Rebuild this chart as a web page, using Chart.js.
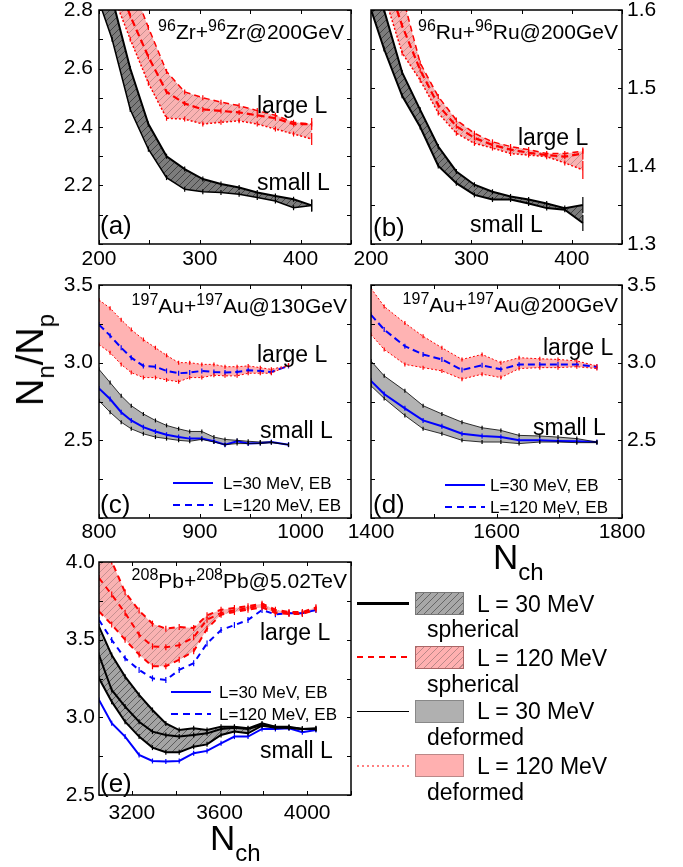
<!DOCTYPE html>
<html>
<head>
<meta charset="utf-8">
<title>Nn/Np vs Nch</title>
<script src="https://cdn.jsdelivr.net/npm/chart.js@4.4.1/dist/chart.umd.min.js"></script>
<style>
  body { margin: 0; background: #fff; }
  #page { position: relative; width: 683px; height: 867px; overflow: hidden; font-family: "Liberation Sans", Arial, sans-serif; }
  #page canvas { position: absolute; }
  .t { position: absolute; white-space: nowrap; line-height: 1; color: #000; }
  .sup { font-size: 16px; position: relative; top: -8px; }
  .sub { font-size: 24px; position: relative; top: 11px; }
  .sw { position: absolute; }
</style>
</head>
<body>
<div id="page"></div>
<script>
// ---- (a) Zr+Zr 200 GeV ----
const aX = [195, 213, 231, 249, 267, 285, 303, 321, 339, 357, 375, 393, 411];
const aBlackHi = [3.00, 2.84, 2.60, 2.41, 2.30, 2.256, 2.222, 2.205, 2.193, 2.176, 2.164, 2.153, 2.132];
const aBlackLo = [2.88, 2.70, 2.46, 2.324, 2.227, 2.187, 2.179, 2.176, 2.170, 2.159, 2.147, 2.124, 2.132];
const aRedHi = [3.20, 3.05, 2.90, 2.74, 2.59, 2.52, 2.50, 2.485, 2.473, 2.456, 2.44, 2.416, 2.41];
const aRedLo = [3.05, 2.86, 2.70, 2.55, 2.43, 2.427, 2.41, 2.416, 2.421, 2.41, 2.393, 2.376, 2.359];
const aRedMid = [3.12, 2.95, 2.78, 2.64, 2.52, 2.48, 2.46, 2.455, 2.45, 2.44, 2.43, 2.41, 2.41];
const aXLabels = [200, 300, 400];
const aYLabels = [2.2, 2.4, 2.6, 2.8];

// ---- (b) Ru+Ru 200 GeV ----
const bX = [195, 213, 231, 249, 267, 285, 303, 321, 339, 357, 375, 393, 411];
const bBlackHi = [1.68, 1.60, 1.52, 1.472, 1.425, 1.393, 1.376, 1.367, 1.361, 1.357, 1.352, 1.346, 1.35];
const bBlackLo = [1.62, 1.55, 1.49, 1.45, 1.40, 1.378, 1.363, 1.357, 1.357, 1.352, 1.346, 1.344, 1.327];
const bRedHi = [1.75, 1.68, 1.62, 1.532, 1.489, 1.459, 1.442, 1.431, 1.425, 1.421, 1.416, 1.416, 1.419];
const bRedLo = [1.70, 1.62, 1.545, 1.51, 1.468, 1.442, 1.429, 1.423, 1.416, 1.414, 1.412, 1.404, 1.395];
const bRedMid = [1.72, 1.65, 1.58, 1.523, 1.478, 1.451, 1.436, 1.427, 1.421, 1.417, 1.414, 1.412, 1.416];
const bXLabels = [200, 300, 400];
const bYLabels = [1.3, 1.4, 1.5, 1.6];

// ---- (c) Au+Au 130 GeV ----
const cX = [800, 811, 822, 832, 844, 856, 867, 879, 890, 902, 914, 925, 937, 948, 960, 971, 988];
const cRedHi = [3.404, 3.351, 3.277, 3.213, 3.149, 3.096, 3.047, 3.0, 3.0, 2.989, 2.989, 2.974, 2.974, 2.979, 2.968, 2.957, 2.983];
const cRedLo = [3.117, 3.064, 2.989, 2.936, 2.904, 2.904, 2.889, 2.877, 2.904, 2.904, 2.919, 2.915, 2.915, 2.932, 2.932, 2.932, 2.983];
const cBlueDash = [3.245, 3.174, 3.096, 3.032, 2.979, 2.974, 2.947, 2.932, 2.936, 2.947, 2.94, 2.936, 2.94, 2.951, 2.947, 2.94, 2.979];
const cBlackHi = [2.957, 2.872, 2.787, 2.723, 2.670, 2.628, 2.596, 2.574, 2.557, 2.557, 2.521, 2.506, 2.5, 2.494, 2.489, 2.489, 2.472];
const cBlackLo = [2.755, 2.681, 2.617, 2.574, 2.542, 2.521, 2.511, 2.5, 2.494, 2.506, 2.489, 2.472, 2.479, 2.479, 2.479, 2.485, 2.472];
const cBlueSolid = [2.834, 2.766, 2.681, 2.628, 2.585, 2.557, 2.536, 2.521, 2.511, 2.511, 2.494, 2.472, 2.494, 2.479, 2.483, 2.489, 2.472];
const cXLabels = [800, 900, 1000];
const cYLabels = [2.5, 3.0, 3.5];

// ---- (d) Au+Au 200 GeV ----
const dX = [1400, 1421, 1454, 1483, 1513, 1545, 1577, 1607, 1636, 1669, 1698, 1728, 1760];
const dRedHi = [3.479, 3.362, 3.255, 3.170, 3.096, 3.021, 3.053, 3.0, 3.032, 3.025, 3.021, 3.011, 2.979];
const dRedLo = [3.181, 3.085, 2.989, 2.968, 2.947, 2.894, 2.926, 2.904, 2.962, 2.968, 2.968, 2.974, 2.962];
const dBlueDash = [3.308, 3.213, 3.106, 3.053, 3.021, 2.953, 2.983, 2.957, 2.989, 2.989, 2.989, 2.989, 2.972];
const dBlackHi = [3.011, 2.915, 2.819, 2.723, 2.670, 2.617, 2.581, 2.564, 2.532, 2.528, 2.521, 2.511, 2.489];
const dBlackLo = [2.851, 2.770, 2.660, 2.574, 2.542, 2.5, 2.489, 2.489, 2.479, 2.489, 2.489, 2.485, 2.485];
const dBlueSolid = [2.883, 2.798, 2.706, 2.628, 2.591, 2.542, 2.528, 2.521, 2.5, 2.5, 2.496, 2.494, 2.489];
const dXLabels = [1400, 1600, 1800];
const dYLabels = [2.5, 3.0, 3.5];

// ---- (e) Pb+Pb 5.02 TeV ----
const eX = [3050, 3108, 3169, 3233, 3294, 3355, 3416, 3482, 3543, 3607, 3668, 3730, 3794, 3855, 3917, 3978, 4040];
const eRedHi = [4.08, 4.004, 3.805, 3.687, 3.603, 3.571, 3.582, 3.575, 3.657, 3.693, 3.704, 3.715, 3.732, 3.693, 3.678, 3.678, 3.708];
const eRedMid = [3.897, 3.790, 3.672, 3.532, 3.457, 3.451, 3.464, 3.515, 3.629, 3.672, 3.689, 3.704, 3.721, 3.682, 3.672, 3.672, 3.700];
const eRedLo = [3.682, 3.597, 3.500, 3.404, 3.329, 3.329, 3.371, 3.425, 3.571, 3.661, 3.678, 3.693, 3.708, 3.672, 3.665, 3.665, 3.693];
const eBlueDash = [3.627, 3.498, 3.380, 3.305, 3.251, 3.240, 3.305, 3.348, 3.476, 3.562, 3.594, 3.627, 3.691, 3.663, 3.670, 3.670, 3.691];
const eBlackHi = [3.584, 3.401, 3.262, 3.144, 3.047, 2.961, 2.918, 2.929, 2.918, 2.940, 2.940, 2.929, 2.961, 2.940, 2.940, 2.925, 2.929];
const eBlackMid = [3.401, 3.176, 3.069, 2.972, 2.908, 2.886, 2.876, 2.886, 2.897, 2.925, 2.933, 2.925, 2.951, 2.940, 2.933, 2.925, 2.925];
const eBlackLo = [3.251, 3.101, 2.972, 2.876, 2.805, 2.775, 2.775, 2.811, 2.826, 2.886, 2.908, 2.897, 2.946, 2.933, 2.933, 2.925, 2.925];
const eBlueSolid = [3.112, 2.962, 2.876, 2.758, 2.719, 2.715, 2.719, 2.769, 2.784, 2.833, 2.876, 2.876, 2.925, 2.925, 2.930, 2.904, 2.919];
const eXLabels = [3200, 3600, 4000];
const eYLabels = [2.5, 3.0, 3.5, 4.0];

const FONT = '"Liberation Sans", Arial, sans-serif';
const RED = '#ff0000', BLUE = '#0000ff', BLACK = '#000000';
const page = document.getElementById('page');

// hatched fill used for the "spherical" bands
function hatch(bg, line) {
  const c = document.createElement('canvas');
  c.width = c.height = 7;
  const g = c.getContext('2d');
  g.fillStyle = bg;
  g.fillRect(0, 0, 7, 7);
  g.strokeStyle = line;
  g.lineWidth = 0.8;
  g.beginPath();
  g.moveTo(0, 7); g.lineTo(7, 0);
  g.moveTo(-1, 1); g.lineTo(1, -1);
  g.moveTo(6, 8); g.lineTo(8, 6);
  g.stroke();
  return g.createPattern(c, 'repeat');
}
const grayHatchDark = hatch('#7c7c7c', '#333333');
const grayHatch = hatch('#a4a4a4', '#4a4a4a');
const pinkHatch = hatch('#f9b2b2', '#b98888');
const GRAY = '#b3b3b3', PINK = '#ffb3b3';

// small vertical error-bar ticks at every point, a longer one at the end
function marks(color, r, rLast) {
  return {
    pointStyle: 'line', pointRotation: 90, pointBorderColor: color, pointBorderWidth: 1.2,
    pointRadius: c => (c.dataIndex === c.dataset.data.length - 1 ? rLast : r)
  };
}
function series(xs, ys, style) {
  return Object.assign({
    data: xs.map((x, i) => ({ x: x, y: ys[i] })),
    borderColor: BLACK, borderWidth: 1, pointRadius: 0, tension: 0, fill: false
  }, style);
}

const onStep = (v, m) => Math.abs(v / m - Math.round(v / m)) < 1e-6;

// frame on all four sides with inward ticks
const frame = {
  id: 'frame',
  afterDraw(chart, args, o) {
    const { ctx, chartArea: a } = chart;
    const x = chart.scales.x, y = chart.scales.y;
    ctx.save();
    ctx.strokeStyle = BLACK;
    ctx.lineWidth = 1;
    ctx.beginPath();
    x.ticks.forEach(t => {
      if (!onStep(t.value, o.xMark)) return;
      const p = Math.round(x.getPixelForValue(t.value)) + 0.5;
      ctx.moveTo(p, a.bottom); ctx.lineTo(p, a.bottom - 4);
      ctx.moveTo(p, a.top); ctx.lineTo(p, a.top + 4);
    });
    y.ticks.forEach(t => {
      if (!onStep(t.value, o.yMark)) return;
      const p = Math.round(y.getPixelForValue(t.value)) + 0.5;
      ctx.moveTo(a.left, p); ctx.lineTo(a.left + 4, p);
      ctx.moveTo(a.right, p); ctx.lineTo(a.right - 4, p);
    });
    ctx.stroke();
    ctx.lineWidth = 1.5;
    ctx.strokeRect(a.left, a.top, a.right - a.left, a.bottom - a.top);
    ctx.restore();
  }
};

const AXW = 60, AXH = 45;
function panel(box, yPos, xs, ys, datasets) {
  const cv = document.createElement('canvas');
  cv.width = box.r - box.l + 2 * AXW;
  cv.height = box.b - box.t + 20 + AXH;
  cv.style.left = (box.l - AXW) + 'px';
  cv.style.top = (box.t - 20) + 'px';
  page.appendChild(cv);
  const tickFont = { family: FONT, size: 21 };
  return new Chart(cv, {
    type: 'line',
    data: { datasets: datasets },
    options: {
      responsive: false,
      animation: false,
      events: [],
      layout: {
        padding: yPos === 'left'
          ? { left: 0, right: AXW, top: 20, bottom: 0 }
          : { left: AXW, right: 0, top: 20, bottom: 0 }
      },
      plugins: {
        legend: { display: false },
        tooltip: { enabled: false },
        filler: { drawTime: 'beforeDatasetsDraw' },
        frame: { xMark: xs.mark, yMark: ys.step }
      },
      scales: {
        x: {
          type: 'linear', position: 'bottom', min: xs.min, max: xs.max,
          afterFit: s => { s.height = AXH; },
          grid: { display: false, drawTicks: false },
          border: { display: false },
          ticks: {
            stepSize: xs.step, padding: xs.pad, autoSkip: false, maxRotation: 0, color: BLACK, font: tickFont,
            callback: v => (xs.labels.some(l => Math.abs(l - v) < 1e-6) ? String(v) : '')
          }
        },
        y: {
          type: 'linear', position: yPos, min: ys.min, max: ys.max,
          afterFit: s => { s.width = AXW; },
          grid: { display: false, drawTicks: false },
          border: { display: false },
          ticks: {
            stepSize: ys.step, padding: ys.pad, autoSkip: false, color: BLACK, font: tickFont,
            callback: v => (ys.labels.some(l => Math.abs(l - v) < 1e-6) ? v.toFixed(1) : '')
          }
        }
      }
    },
    plugins: [frame]
  });
}

// (a)
panel({ l: 99, t: 10, r: 351, b: 244 }, 'left',
  { min: 200, max: 450, step: 50, mark: 50, pad: 3, labels: aXLabels },
  { min: 2.0, max: 2.8, step: 0.1, pad: 6, labels: aYLabels },
  [
    series(aX, aRedHi, Object.assign({ borderColor: RED, borderWidth: 1.5, borderDash: [6, 4], fill: '+1', backgroundColor: pinkHatch }, marks(RED, 2.5, 2.5))),
    series(aX, aRedLo, Object.assign({ borderColor: RED, borderWidth: 1.5, borderDash: [2, 2] }, marks(RED, 2.5, 6))),
    series(aX, aRedMid, Object.assign({ borderColor: RED, borderWidth: 2.2, borderDash: [7, 4] }, marks(RED, 2.5, 6))),
    series(aX, aBlackHi, Object.assign({ borderColor: BLACK, borderWidth: 2, fill: '+1', backgroundColor: grayHatchDark }, marks(BLACK, 2.5, 6))),
    series(aX, aBlackLo, Object.assign({ borderColor: BLACK, borderWidth: 1.5 }, marks(BLACK, 2.5, 6)))
  ]);

// (b)
panel({ l: 371, t: 10, r: 622, b: 244 }, 'right',
  { min: 200, max: 450, step: 50, mark: 50, pad: 3, labels: bXLabels },
  { min: 1.3, max: 1.6, step: 0.05, pad: 5, labels: bYLabels },
  [
    series(bX, bRedHi, Object.assign({ borderColor: RED, borderWidth: 1.5, borderDash: [6, 4], fill: '+1', backgroundColor: pinkHatch }, marks(RED, 2.5, 2.5))),
    series(bX, bRedLo, Object.assign({ borderColor: RED, borderWidth: 1.5, borderDash: [2, 2] }, marks(RED, 2.5, 9))),
    series(bX, bRedMid, Object.assign({ borderColor: RED, borderWidth: 2.2, borderDash: [7, 4] }, marks(RED, 2.5, 6))),
    series(bX, bBlackHi, Object.assign({ borderColor: BLACK, borderWidth: 2, fill: '+1', backgroundColor: grayHatchDark }, marks(BLACK, 2.5, 8))),
    series(bX, bBlackLo, Object.assign({ borderColor: BLACK, borderWidth: 2 }, marks(BLACK, 2.5, 8)))
  ]);

// (c)
panel({ l: 99, t: 285, r: 351, b: 518 }, 'left',
  { min: 800, max: 1050, step: 50, mark: 50, pad: 2, labels: cXLabels },
  { min: 2.0, max: 3.5, step: 0.25, pad: 6, labels: cYLabels },
  [
    series(cX, cRedHi, Object.assign({ borderColor: RED, borderWidth: 1, borderDash: [2, 2], fill: '+1', backgroundColor: PINK }, marks(RED, 2, 2))),
    series(cX, cRedLo, Object.assign({ borderColor: RED, borderWidth: 1, borderDash: [2, 2] }, marks(RED, 2, 2))),
    series(cX, cBlueDash, Object.assign({ borderColor: BLUE, borderWidth: 2, borderDash: [7, 4] }, marks(BLUE, 2.5, 2.5))),
    series(cX, cBlackHi, Object.assign({ borderColor: BLACK, borderWidth: 0.8, fill: '+1', backgroundColor: GRAY }, marks(BLACK, 2, 2))),
    series(cX, cBlackLo, Object.assign({ borderColor: BLACK, borderWidth: 0.8 }, marks(BLACK, 2, 2))),
    series(cX, cBlueSolid, Object.assign({ borderColor: BLUE, borderWidth: 2 }, marks(BLUE, 2.5, 2.5)))
  ]);

// (d)
panel({ l: 371, t: 285, r: 622, b: 518 }, 'right',
  { min: 1400, max: 1800, step: 100, mark: 100, pad: 2, labels: dXLabels },
  { min: 2.0, max: 3.5, step: 0.25, pad: 5, labels: dYLabels },
  [
    series(dX, dRedHi, Object.assign({ borderColor: RED, borderWidth: 1, borderDash: [2, 2], fill: '+1', backgroundColor: PINK }, marks(RED, 2, 2))),
    series(dX, dRedLo, Object.assign({ borderColor: RED, borderWidth: 1, borderDash: [2, 2] }, marks(RED, 2, 2))),
    series(dX, dBlueDash, Object.assign({ borderColor: BLUE, borderWidth: 2, borderDash: [7, 4] }, marks(BLUE, 2.5, 2.5))),
    series(dX, dBlackHi, Object.assign({ borderColor: BLACK, borderWidth: 0.8, fill: '+1', backgroundColor: GRAY }, marks(BLACK, 2, 2))),
    series(dX, dBlackLo, Object.assign({ borderColor: BLACK, borderWidth: 0.8 }, marks(BLACK, 2, 2))),
    series(dX, dBlueSolid, Object.assign({ borderColor: BLUE, borderWidth: 2 }, marks(BLUE, 2.5, 2.5)))
  ]);

// (e)
panel({ l: 99, t: 562, r: 351, b: 795 }, 'left',
  { min: 3050, max: 4200, step: 50, mark: 200, pad: 6, labels: eXLabels },
  { min: 2.5, max: 4.0, step: 0.25, pad: 4, labels: eYLabels },
  [
    series(eX, eRedHi, Object.assign({ borderColor: RED, borderWidth: 2, borderDash: [6, 5], fill: '+1', backgroundColor: pinkHatch }, marks(RED, 3, 3))),
    series(eX, eRedLo, Object.assign({ borderColor: RED, borderWidth: 2, borderDash: [6, 5] }, marks(RED, 3, 3))),
    series(eX, eRedMid, Object.assign({ borderColor: RED, borderWidth: 2, borderDash: [6, 5] }, marks(RED, 3, 3))),
    series(eX, eBlueDash, Object.assign({ borderColor: BLUE, borderWidth: 2, borderDash: [6, 5] }, marks(BLUE, 3, 3))),
    series(eX, eBlackHi, Object.assign({ borderColor: BLACK, borderWidth: 2, fill: '+1', backgroundColor: grayHatch }, marks(BLACK, 2.5, 2.5))),
    series(eX, eBlackLo, Object.assign({ borderColor: BLACK, borderWidth: 2 }, marks(BLACK, 2.5, 2.5))),
    series(eX, eBlackMid, Object.assign({ borderColor: BLACK, borderWidth: 2 }, marks(BLACK, 2.5, 2.5))),
    series(eX, eBlueSolid, Object.assign({ borderColor: BLUE, borderWidth: 2 }, marks(BLUE, 2.5, 2.5)))
  ]);

// ---- text overlays ----
function txt(html, x, base, size, align) {
  const d = document.createElement('div');
  d.className = 't';
  d.innerHTML = html;
  d.style.fontSize = size + 'px';
  d.style.top = (base - 0.8465 * size) + 'px';
  if (align === 'right') d.style.right = (683 - x) + 'px';
  else d.style.left = x + 'px';
  page.appendChild(d);
  return d;
}
function swatch(css) {
  const d = document.createElement('div');
  d.className = 'sw';
  d.style.cssText = css;
  page.appendChild(d);
}
const sup = s => '<span class="sup">' + s + '</span>';

txt(sup('96') + 'Zr+' + sup('96') + 'Zr@200GeV', 344, 39, 21, 'right');
txt(sup('96') + 'Ru+' + sup('96') + 'Ru@200GeV', 618, 39, 21, 'right');
txt(sup('197') + 'Au+' + sup('197') + 'Au@130GeV', 347, 313, 21, 'right');
txt(sup('197') + 'Au+' + sup('197') + 'Au@200GeV', 618, 312, 21, 'right');
txt(sup('208') + 'Pb+' + sup('208') + 'Pb@5.02TeV', 347, 588, 21, 'right');

txt('large L', 257, 113, 23); txt('small L', 257, 190, 23);
txt('large L', 518, 145, 23); txt('small L', 470, 232, 23);
txt('large L', 257, 362, 23); txt('small L', 260, 438, 23);
txt('large L', 543, 355, 23); txt('small L', 533, 435, 23);
txt('large L', 260, 640, 23); txt('small L', 260, 758, 23);

txt('(a)', 100, 234, 26); txt('(b)', 373, 236, 26);
txt('(c)', 100, 513, 26); txt('(d)', 373, 513, 26);
txt('(e)', 100, 792, 26);

// inner EB legends
const blueSolidCss = 'height:2px;background:#0000ff;';
const blueDashCss = 'height:2px;background:repeating-linear-gradient(90deg,#0000ff 0 7px,transparent 7px 12px);';
[[173, 483, 223], [445, 485, 490], [171, 692, 219]].forEach(p => {
  swatch('left:' + p[0] + 'px;top:' + (p[1] - 1) + 'px;width:40px;' + blueSolidCss);
  swatch('left:' + p[0] + 'px;top:' + (p[1] + 21) + 'px;width:40px;' + blueDashCss);
  txt('L=30 MeV, EB', p[2], p[1] + 6, 17);
  txt('L=120 MeV, EB', p[2], p[1] + 28, 17);
});

// right-hand legend
swatch('left:357px;top:602px;width:52px;height:2.5px;background:#000;');
swatch('left:415px;top:592px;width:47px;height:21px;border:1px solid #777;background:#a8a8a8 repeating-linear-gradient(135deg,#666 0 1px,transparent 1px 5px);');
txt('L = 30 MeV', 477, 612, 23); txt('spherical', 427, 637, 23);
swatch('left:357px;top:656px;width:52px;height:2px;background:repeating-linear-gradient(90deg,#ff0000 0 6px,transparent 6px 11px);');
swatch('left:415px;top:646px;width:47px;height:21px;border:1px solid #a66;background:#ffb0b0 repeating-linear-gradient(135deg,#b88 0 1px,transparent 1px 5px);');
txt('L = 120 MeV', 477, 666, 23); txt('spherical', 427, 692, 23);
swatch('left:357px;top:711px;width:52px;height:1px;background:#000;');
swatch('left:415px;top:700px;width:47px;height:21px;border:1px solid #888;background:#b0b0b0;');
txt('L = 30 MeV', 477, 719, 23); txt('deformed', 427, 745, 23);
swatch('left:357px;top:765px;width:52px;height:1.5px;background:repeating-linear-gradient(90deg,#ff8080 0 2px,transparent 2px 5px);');
swatch('left:415px;top:754px;width:47px;height:21px;border:1px solid #b88;background:#ffb0b0;');
txt('L = 120 MeV', 477, 774, 23); txt('deformed', 427, 800, 23);

// axis titles
txt('N<span class="sub">ch</span>', 493, 569, 35);
txt('N<span class="sub">ch</span>', 210, 850, 35);
const yl = txt('N<span class="sub">n</span>/N<span class="sub">p</span>', 0, 0, 38);
yl.style.left = '30px';
yl.style.top = '360px';
yl.style.transform = 'translate(-50%,-50%) rotate(-90deg)';
</script>
</body>
</html>
